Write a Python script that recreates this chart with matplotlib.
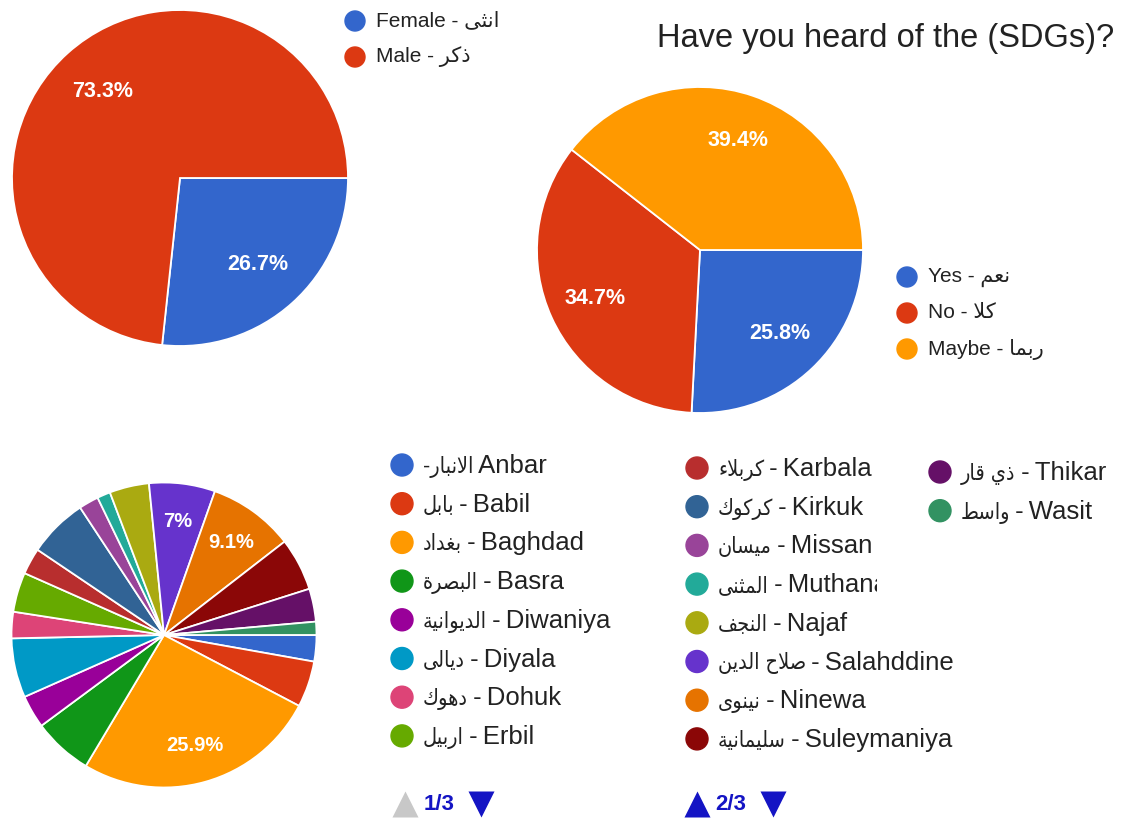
import matplotlib
matplotlib.use("Agg")
import matplotlib.pyplot as plt
from matplotlib.patches import Circle, Rectangle

plt.rcParams['font.family'] = ['Liberation Sans', 'DejaVu Sans']

W, H = 1123, 821

# ---------------- data ----------------
gender_en = ["Female", "Male"]
gender_ar = ["انثى", "ذكر"]
gender_pct = [26.7, 73.3]

sdg_title = "Have you heard of the (SDGs)?"
sdg_en = ["Yes", "No", "Maybe"]
sdg_ar = ["نعم", "كلا", "ربما"]
sdg_pct = [25.8, 34.7, 39.4]

region_en = ["Anbar", "Babil", "Baghdad", "Basra", "Diwaniya", "Diyala", "Dohuk",
             "Erbil", "Karbala", "Kirkuk", "Missan", "Muthana", "Najaf",
             "Salahddine", "Ninewa", "Suleymaniya", "Thikar", "Wasit"]
region_ar = ["الانبار", "بابل", "بغداد", "البصرة", "الديوانية", "ديالى", "دهوك",
             "اربيل", "كربلاء", "كركوك", "ميسان", "المثنى", "النجف",
             "صلاح الدين", "نينوى", "سليمانية", "ذي قار", "واسط"]
region_counts = [4, 7, 37, 9, 5, 9, 4, 6, 4, 9, 3, 2, 6, 10, 13, 8, 5, 2]

page_labels = ["1/3", "2/3"]

colors = ["#3366cc", "#dc3912", "#ff9900", "#109618", "#990099", "#0099c6",
          "#dd4477", "#66aa00", "#b82e2e", "#316395", "#994499", "#22aa99",
          "#aaaa11", "#6633cc", "#e67300", "#8b0707", "#651067", "#329262"]

# ------------- minimal Arabic shaping (presentation forms, visual order) -------------
FORMS = {
    'ا': (0xFE8D, 0xFE8E, None, None),
    'ب': (0xFE8F, 0xFE90, 0xFE91, 0xFE92),
    'ة': (0xFE93, 0xFE94, None, None),
    'ت': (0xFE95, 0xFE96, 0xFE97, 0xFE98),
    'ث': (0xFE99, 0xFE9A, 0xFE9B, 0xFE9C),
    'ج': (0xFE9D, 0xFE9E, 0xFE9F, 0xFEA0),
    'ح': (0xFEA1, 0xFEA2, 0xFEA3, 0xFEA4),
    'د': (0xFEA9, 0xFEAA, None, None),
    'ذ': (0xFEAB, 0xFEAC, None, None),
    'ر': (0xFEAD, 0xFEAE, None, None),
    'س': (0xFEB1, 0xFEB2, 0xFEB3, 0xFEB4),
    'ص': (0xFEB9, 0xFEBA, 0xFEBB, 0xFEBC),
    'ط': (0xFEC1, 0xFEC2, 0xFEC3, 0xFEC4),
    'ع': (0xFEC9, 0xFECA, 0xFECB, 0xFECC),
    'غ': (0xFECD, 0xFECE, 0xFECF, 0xFED0),
    'ف': (0xFED1, 0xFED2, 0xFED3, 0xFED4),
    'ق': (0xFED5, 0xFED6, 0xFED7, 0xFED8),
    'ك': (0xFED9, 0xFEDA, 0xFEDB, 0xFEDC),
    'ل': (0xFEDD, 0xFEDE, 0xFEDF, 0xFEE0),
    'م': (0xFEE1, 0xFEE2, 0xFEE3, 0xFEE4),
    'ن': (0xFEE5, 0xFEE6, 0xFEE7, 0xFEE8),
    'ه': (0xFEE9, 0xFEEA, 0xFEEB, 0xFEEC),
    'و': (0xFEED, 0xFEEE, None, None),
    'ى': (0xFEEF, 0xFEF0, None, None),
    'ي': (0xFEF1, 0xFEF2, 0xFEF3, 0xFEF4),
    'ء': (0xFE80, None, None, None),
}


def shape(s):
    out = []
    i, n = 0, len(s)
    while i < n:
        c = s[i]
        if c not in FORMS:
            out.append(c)
            i += 1
            continue
        prev = s[i - 1] if i > 0 else None
        pc = prev in FORMS and FORMS[prev][2] is not None
        if c == 'ل' and i + 1 < n and s[i + 1] == 'ا':
            out.append(chr(0xFEFC if pc else 0xFEFB))
            i += 2
            continue
        nxt = s[i + 1] if i + 1 < n else None
        nc = FORMS[c][2] is not None and nxt in FORMS and FORMS[nxt][1] is not None
        iso, fin, ini, med = FORMS[c]
        if pc and nc:
            g = med
        elif pc:
            g = fin
        elif nc:
            g = ini
        else:
            g = iso
        out.append(chr(g))
        i += 1
    return ''.join(reversed(out))


# ---------------- figure ----------------
fig = plt.figure(figsize=(W / 100, H / 100), dpi=100)
fig.patch.set_facecolor("white")
ax0 = fig.add_axes([0, 0, 1, 1])
ax0.set_xlim(0, W)
ax0.set_ylim(H, 0)
ax0.axis("off")
renderer = fig.canvas.get_renderer()

TXT = "#222222"


def pie_ax(cx, cy, r):
    return fig.add_axes([(cx - r) / W, 1 - (cy + r) / H, 2 * r / W, 2 * r / H])


def fmt(p, thr):
    return f"{round(p, 1):g}%" if p >= thr else ""


def draw_pie(cx, cy, r, vals, cols, fs, pctdist, thr):
    ax = pie_ax(cx, cy, r)
    ax.pie(vals, colors=cols, startangle=0, counterclock=False,
           autopct=lambda p: fmt(p, thr), pctdistance=pctdist,
           wedgeprops=dict(edgecolor="white", linewidth=1.3),
           textprops=dict(color="white", fontsize=fs, fontweight="bold"))
    ax.set_xlim(-1, 1)
    ax.set_ylim(-1, 1)
    ax.set_aspect("equal")
    ax.axis("off")
    return ax


def legend_item(x, y, rad, col, label, fs):
    ax0.add_patch(Circle((x, y), rad, color=col, zorder=3))
    ax0.text(x + 21, y, label, fontsize=fs, color=TXT, va="center", ha="left")


def legend_item2(x, y, rad, col, ar_part, en_part, fs_ar, fs_en, clip=None):
    ax0.add_patch(Circle((x, y), rad, color=col, zorder=3))
    base = y + 8
    t1 = ax0.text(x + 21, base, ar_part, fontsize=fs_ar, color=TXT,
                  va="baseline", ha="left", fontstretch="condensed")
    w = t1.get_window_extent(renderer).width
    t2 = ax0.text(x + 21 + w, base, en_part, fontsize=fs_en, color=TXT,
                  va="baseline", ha="left")
    if clip is not None:
        t2.set_clip_path(clip)
        t2.set_clip_on(True)


# gender pie
draw_pie(180, 178, 168, gender_pct, colors[:2], 15.5, 0.69, 5)
for k, (en, ar) in enumerate(zip(gender_en, gender_ar)):
    legend_item(355, 21 + 36 * k, 10, colors[k], f"{en} - {shape(ar)}", 15)

# SDG pie
ax0.text(657, 39, sdg_title, fontsize=23.5, color=TXT, va="center", ha="left")
draw_pie(700, 250, 163, sdg_pct, colors[:3], 15.5, 0.71, 5)
for k, (en, ar) in enumerate(zip(sdg_en, sdg_ar)):
    legend_item(907, 277 + 36 * k, 10, colors[k], f"{en} - {shape(ar)}", 15)

# region pie
draw_pie(164, 635, 152.5, region_counts, colors, 14.5, 0.75, 6.5)

col_x = [402, 697, 940]
col_y0 = [465, 468, 472]
clip2 = Rectangle((680, 440), 197, 170, transform=ax0.transData)
for k, (en, ar) in enumerate(zip(region_en, region_ar)):
    c = k // 8
    row = k % 8
    if k == 0:
        ar_part, en_part = f"-{shape(ar)}", f"\u2009{en}"
    else:
        ar_part, en_part = shape(ar), f"\u2009-\u2009{en}"
    legend_item2(col_x[c], col_y0[c] + 38.7 * row, 11, colors[k], ar_part, en_part,
                 15.5, 18.5, clip=clip2 if (c == 1 and row < 4) else None)

# pagination
BLUE = "#1414c4"
ax0.plot([405], [804], marker="^", ms=19, color="#c8c8c8", mec="none")
ax0.text(424, 805, page_labels[0], fontsize=16, color=BLUE, va="center", ha="left",
         fontweight="semibold")
ax0.plot([481], [804], marker="v", ms=19, color=BLUE, mec="none")
ax0.plot([697], [804], marker="^", ms=19, color=BLUE, mec="none")
ax0.text(715, 805, page_labels[1], fontsize=16, color=BLUE, va="center", ha="left",
         fontweight="semibold")
ax0.plot([773], [804], marker="v", ms=19, color=BLUE, mec="none")

fig.savefig("out.png", dpi=100, facecolor="white")
